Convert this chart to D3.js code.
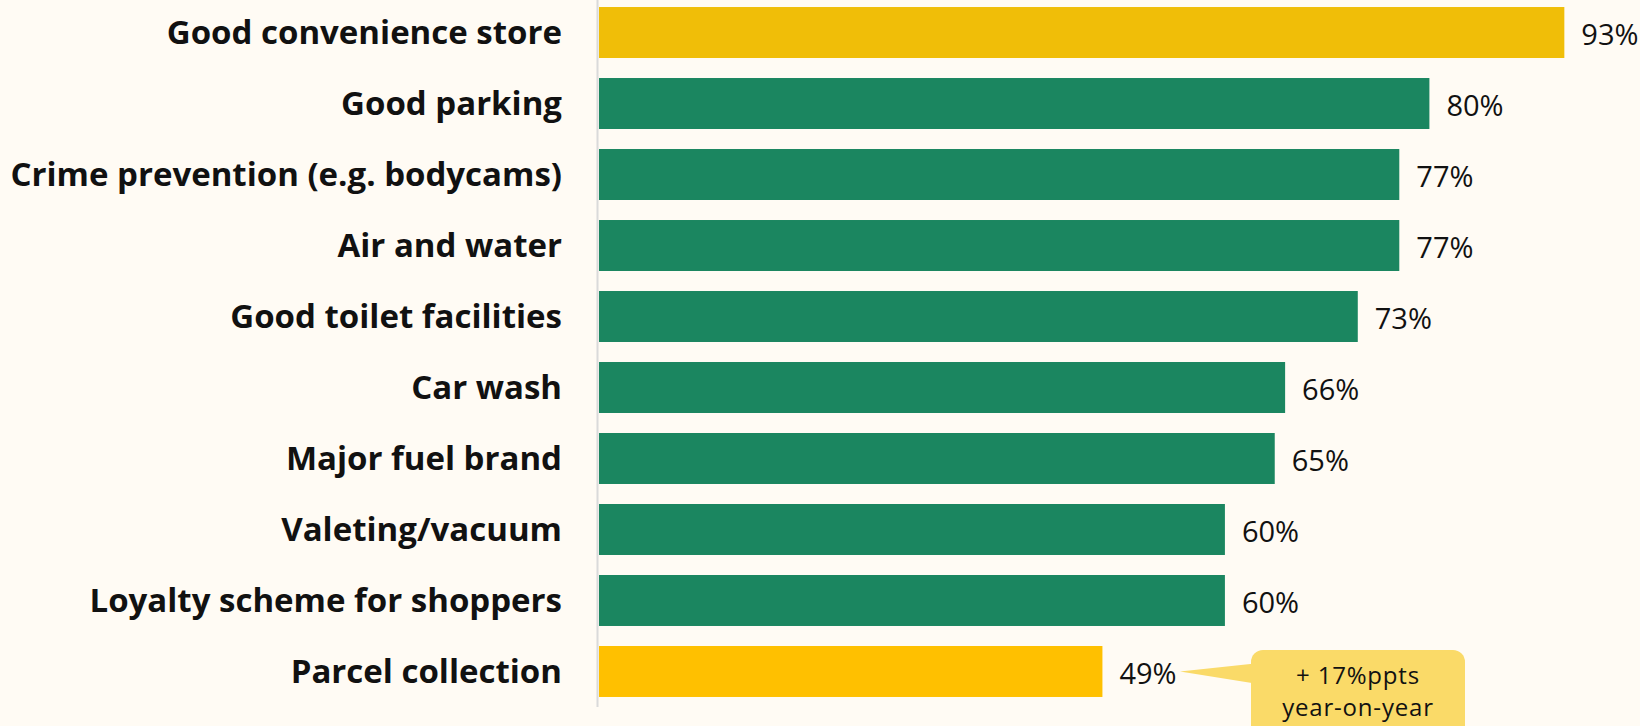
<!DOCTYPE html>
<html><head><meta charset="utf-8">
<script src="https://cdn.jsdelivr.net/npm/d3@7"></script>
<style>html,body{margin:0;padding:0;background:#FFFBF4;}svg{display:block;}</style>
</head><body>
<svg id="c" width="1640" height="726"></svg>
<script>
const categories = ["Good convenience store","Good parking","Crime prevention (e.g. bodycams)","Air and water","Good toilet facilities","Car wash","Major fuel brand","Valeting/vacuum","Loyalty scheme for shoppers","Parcel collection"];
const values = [93,80,77.1,77.1,73.1,66.1,65.1,60.3,60.3,48.5];
const barColors = ["#F0BE08","#1B8660","#1B8660","#1B8660","#1B8660","#1B8660","#1B8660","#1B8660","#1B8660","#FFC000"];
const calloutLines = ["+ 17%ppts","year-on-year"];
const calloutTarget = "Parcel collection";

const svg = d3.select("#c");
const x0 = 599;
const x = d3.scaleLinear().domain([0,100]).range([x0, x0+1038]);
const y = d3.scaleBand().domain(categories).range([-13, 717]).paddingInner(0.282).paddingOuter(0.282);

svg.append("rect").attr("width",1640).attr("height",726).attr("fill","#FFFBF4");

svg.append("line").attr("x1",597.5).attr("x2",597.5).attr("y1",0).attr("y2",707)
  .attr("stroke","#DADADA").attr("stroke-width",2);

svg.selectAll("rect.bar").data(categories).join("rect").attr("class","bar")
  .attr("x",x(0)).attr("y",d=>y(d)).attr("height",y.bandwidth())
  .attr("width",(d,i)=>x(values[i])-x(0)).attr("fill",(d,i)=>barColors[i]);

svg.selectAll("text.cat").data(categories).join("text").attr("class","cat")
  .attr("x",562).attr("y",d=>y(d)+y.bandwidth()/2).attr("dy","0.36em")
  .attr("text-anchor","end").attr("font-family","'Open Sans', sans-serif").attr("font-weight",700)
  .attr("font-size",33).attr("fill","#111").text(d=>d);

svg.selectAll("text.val").data(categories).join("text").attr("class","val")
  .attr("x",(d,i)=>x(values[i])+17).attr("y",d=>y(d)+y.bandwidth()/2).attr("dy","0.42em")
  .attr("font-family","'Open Sans', sans-serif").attr("font-weight",400)
  .attr("font-size",29).attr("fill","#111").text((d,i)=>Math.round(values[i])+"%");

// callout
const cy = y(calloutTarget)+y.bandwidth()/2;
const bx = 1251, bw = 214, by = 650, bh = 90;
const g = svg.append("g");
g.append("path").attr("d",`M${bx+4},${cy-8} L1180,${cy} L${bx+4},${cy+12} Z`).attr("fill","#FADA68");
g.append("rect").attr("x",bx).attr("y",by).attr("width",bw).attr("height",bh).attr("rx",12).attr("fill","#FADA68");
g.selectAll("text").data(calloutLines).join("text")
  .attr("x",bx+bw/2).attr("y",(d,i)=>684+i*32).attr("text-anchor","middle")
  .attr("font-family","'Open Sans', sans-serif").attr("font-size",24).attr("letter-spacing",0.8)
  .attr("fill","#111").text(d=>d);
</script>
</body></html>
